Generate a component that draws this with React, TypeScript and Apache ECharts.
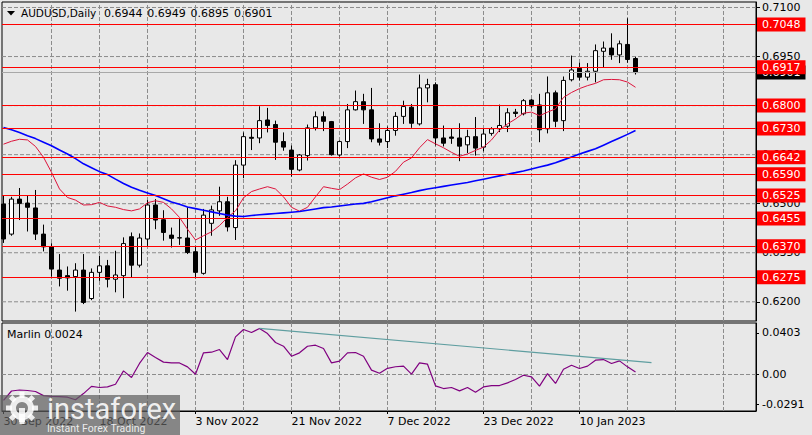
import React, { useEffect, useRef } from "react";
import * as echarts from "echarts";

const FONT = "DejaVu Sans";

const dateTickIndex = [0, 12, 24, 36, 48, 60, 72];
const dateTickLabels = ["30 Sep 2022", "18 Oct 2022", "3 Nov 2022", "21 Nov 2022", "7 Dec 2022", "23 Dec 2022", "10 Jan 2023"];
const gridColumns = [6, 12, 18, 24, 30, 36, 42, 48, 54, 60, 66, 72, 78, 84, 90];
const priceTicks = [0.62, 0.635, 0.65, 0.665, 0.68, 0.695, 0.71];
const levelPrices = [0.7048, 0.6917, 0.68, 0.673, 0.6642, 0.659, 0.6525, 0.6455, 0.637, 0.6275];
const bidPrice = 0.6901;
const marlinTicks = [0.0403, 0, -0.0291];
const marlinGridRows = [0];
const titleValues = ["0.6944", "0.6949", "0.6895", "0.6901"];

const opens = [
  0.6499, 0.6407, 0.6514, 0.6502, 0.6487, 0.6407, 0.6369, 0.6297, 0.6280, 0.6277,
  0.6297, 0.6210, 0.6290, 0.6310, 0.6269, 0.6280, 0.6399, 0.6312, 0.6392, 0.6496,
  0.6451, 0.6404, 0.6395, 0.6395, 0.6353, 0.6287, 0.6440, 0.6478, 0.6506, 0.6427,
  0.6618, 0.6703, 0.6701, 0.6756, 0.6742, 0.6690, 0.6664, 0.6603, 0.6647, 0.6732,
  0.6766, 0.6751, 0.6649, 0.6690, 0.6787, 0.6812, 0.6787, 0.6698, 0.6690, 0.6724,
  0.6767, 0.6795, 0.6744, 0.6854, 0.6864, 0.6701, 0.6704, 0.6701, 0.6680, 0.6705,
  0.6673, 0.6715, 0.6729, 0.6737, 0.6780, 0.6775, 0.6817, 0.6802, 0.6729, 0.6839,
  0.6754, 0.6879, 0.6914, 0.6887, 0.6905, 0.6966, 0.6976, 0.6955, 0.6987, 0.6944,
];
const highs = [
  0.6525, 0.6521, 0.6548, 0.6526, 0.6542, 0.6436, 0.6379, 0.6346, 0.6308, 0.6318,
  0.6346, 0.6302, 0.6341, 0.6328, 0.6356, 0.6397, 0.6412, 0.6409, 0.6511, 0.6514,
  0.6480, 0.6427, 0.6453, 0.6489, 0.6371, 0.6484, 0.6494, 0.6552, 0.6521, 0.6633,
  0.6718, 0.6729, 0.6798, 0.6793, 0.6754, 0.6718, 0.6678, 0.6652, 0.6742, 0.6782,
  0.6782, 0.6753, 0.6693, 0.6805, 0.6846, 0.6836, 0.6854, 0.6746, 0.6736, 0.6780,
  0.6815, 0.6805, 0.6895, 0.6882, 0.6871, 0.6739, 0.6731, 0.6746, 0.6726, 0.6765,
  0.6729, 0.6734, 0.6803, 0.6792, 0.6790, 0.6820, 0.6820, 0.6836, 0.6889, 0.6846,
  0.6889, 0.6953, 0.6931, 0.6930, 0.6987, 0.6996, 0.7021, 0.6999, 0.7067, 0.6949,
];
const lows = [
  0.6380, 0.6402, 0.6450, 0.6415, 0.6389, 0.6354, 0.6277, 0.6247, 0.6234, 0.6170,
  0.6193, 0.6205, 0.6264, 0.6244, 0.6229, 0.6211, 0.6274, 0.6305, 0.6371, 0.6422,
  0.6387, 0.6366, 0.6374, 0.6346, 0.6272, 0.6283, 0.6402, 0.6463, 0.6415, 0.6389,
  0.6578, 0.6664, 0.6685, 0.6718, 0.6634, 0.6662, 0.6583, 0.6599, 0.6632, 0.6724,
  0.6722, 0.6647, 0.6644, 0.6670, 0.6785, 0.6744, 0.6688, 0.6678, 0.6670, 0.6708,
  0.6744, 0.6732, 0.6739, 0.6810, 0.6678, 0.6675, 0.6683, 0.6630, 0.6655, 0.6647,
  0.6660, 0.6708, 0.6719, 0.6719, 0.6765, 0.6770, 0.6793, 0.6688, 0.6715, 0.6734,
  0.6722, 0.6874, 0.6877, 0.6877, 0.6871, 0.6917, 0.6940, 0.6930, 0.6931, 0.6895,
];
const closes = [
  0.6392, 0.6514, 0.6501, 0.6489, 0.6407, 0.6368, 0.6300, 0.6272, 0.6273, 0.6297,
  0.6198, 0.6290, 0.6310, 0.6269, 0.6282, 0.6378, 0.6312, 0.6395, 0.6496, 0.6450,
  0.6412, 0.6394, 0.6396, 0.6351, 0.6290, 0.6465, 0.6481, 0.6506, 0.6429, 0.6618,
  0.6705, 0.6700, 0.6754, 0.6739, 0.6688, 0.6673, 0.6605, 0.6649, 0.6732, 0.6766,
  0.6752, 0.6650, 0.6690, 0.6787, 0.6812, 0.6787, 0.6698, 0.6688, 0.6724, 0.6767,
  0.6797, 0.6746, 0.6854, 0.6864, 0.6701, 0.6685, 0.6700, 0.6676, 0.6705, 0.6670,
  0.6713, 0.6729, 0.6739, 0.6778, 0.6776, 0.6815, 0.6799, 0.6726, 0.6839, 0.6752,
  0.6877, 0.6909, 0.6887, 0.6905, 0.6968, 0.6976, 0.6955, 0.6989, 0.6941, 0.6901,
];
const redMA = [
  0.6682, 0.6691, 0.6697, 0.6695, 0.6675, 0.6642, 0.6596, 0.6545, 0.6519, 0.6511,
  0.6496, 0.6497, 0.6504, 0.6493, 0.6489, 0.6482, 0.6478, 0.6484, 0.6503, 0.6509,
  0.6504, 0.6484, 0.6458, 0.6422, 0.6389, 0.6402, 0.6414, 0.6433, 0.6458, 0.6478,
  0.6518, 0.6537, 0.6545, 0.6552, 0.6545, 0.6521, 0.6489, 0.6477, 0.6489, 0.6521,
  0.6552, 0.6547, 0.6543, 0.6560, 0.6579, 0.6591, 0.6581, 0.6574, 0.6581, 0.6599,
  0.6627, 0.6640, 0.6671, 0.6696, 0.6683, 0.6671, 0.6657, 0.6645, 0.6652, 0.6663,
  0.6673, 0.6695, 0.6725, 0.6744, 0.6759, 0.6777, 0.6780, 0.6769, 0.6780, 0.6790,
  0.6825, 0.6840, 0.6852, 0.6861, 0.6868, 0.6879, 0.6880, 0.6879, 0.6872, 0.6856,
];
const blueMA = [
  0.6733, 0.6726, 0.6718, 0.6708, 0.6699, 0.6688, 0.6677, 0.6664, 0.6652, 0.6638,
  0.6622, 0.6610, 0.6598, 0.6589, 0.6575, 0.6562, 0.6550, 0.6541, 0.6533, 0.6525,
  0.6515, 0.6505, 0.6498, 0.6490, 0.6485, 0.6480, 0.6475, 0.6470, 0.6465, 0.6462,
  0.6461, 0.6464, 0.6466, 0.6468, 0.6470, 0.6472, 0.6474, 0.6476, 0.6480, 0.6484,
  0.6488, 0.6490, 0.6493, 0.6496, 0.6499, 0.6501, 0.6506, 0.6512, 0.6518, 0.6524,
  0.6529, 0.6534, 0.6540, 0.6545, 0.6549, 0.6553, 0.6557, 0.6561, 0.6565, 0.6570,
  0.6575, 0.6580, 0.6585, 0.6590, 0.6595, 0.6600, 0.6606, 0.6612, 0.6618, 0.6625,
  0.6634, 0.6643, 0.6652, 0.6660, 0.6668, 0.6679, 0.6690, 0.6701, 0.6712, 0.6724,
];
const marlin = [
  -0.0250, -0.0160, -0.0150, -0.0155, -0.0165, -0.0205, -0.0212, -0.0215, -0.0220, -0.0245,
  -0.0185, -0.0115, -0.0126, -0.0120, -0.0094, 0.0035, -0.0029, 0.0107, 0.0213, 0.0165,
  0.0120, 0.0113, 0.0112, 0.0074, 0.0003, 0.0210, 0.0216, 0.0242, 0.0145, 0.0365,
  0.0436, 0.0407, 0.0446, 0.0397, 0.0310, 0.0274, 0.0177, 0.0210, 0.0274, 0.0284,
  0.0252, 0.0113, 0.0129, 0.0210, 0.0213, 0.0177, 0.0042, 0.0012, 0.0060, 0.0075,
  0.0081, 0.0003, 0.0113, 0.0100, -0.0110, -0.0136, -0.0126, -0.0159, -0.0126, -0.0171,
  -0.0120, -0.0107, -0.0107, -0.0081, -0.0049, -0.0007, -0.0023, -0.0113, 0.0009, -0.0087,
  0.0051, 0.0090, 0.0058, 0.0081, 0.0139, 0.0145, 0.0107, 0.0132, 0.0074, 0.0024,
];
const trendIndex = [32, 81];
const trendValue = [0.0446, 0.0116];

const X_MIN = -0.1875;
const X_MAX = 94.0625;
const Y_MAX = 0.71168;
const Y_MIN = 0.614126;
const M_MAX = 0.049903;
const M_MIN = -0.035368;

const GRID_LINE = "#8C8C8C";

function gridLineSeries(xAxisIndex: number, yAxisIndex: number, points: number[][]) {
  return {
    type: "line", xAxisIndex, yAxisIndex, data: points, showSymbol: false, silent: true, z: 1,
    clip: false, lineStyle: { color: GRID_LINE, width: 1, type: "dashed", dashOffset: 0, opacity: 1 },
  };
}

export default function App() {
  const ref = useRef<HTMLDivElement>(null);

  useEffect(() => {
    if (!ref.current) return;
    const chart = echarts.init(ref.current, null, { renderer: "svg" });

    const candleData = opens.map((o, i) => [i, o, closes[i], lows[i], highs[i]]);
    const labelStyle = {
      show: true,
      position: "end",
      distance: 1,
      color: "#fff",
      fontSize: 11,
      lineHeight: 12,
      fontFamily: FONT,
      padding: [1, 5, 1, 5],
    };

    const gridSeries = [
      ...priceTicks.map((v) => gridLineSeries(0, 0, [[X_MIN, v], [X_MAX, v]])),
      ...gridColumns.map((c) => gridLineSeries(0, 0, [[c, Y_MIN], [c, Y_MAX]])),
      ...marlinGridRows.map((v) => gridLineSeries(1, 1, [[X_MIN, v], [X_MAX, v]])),
      ...gridColumns.map((c) => gridLineSeries(1, 1, [[c, M_MIN], [c, M_MAX]])),
    ];

    const option: any = {
      animation: false,
      backgroundColor: "#E8E8E8",
      textStyle: { fontFamily: FONT },
      grid: [
        { left: 2, top: 2, width: 754, height: 319, show: true, borderColor: "#000", borderWidth: 1, backgroundColor: "rgba(0,0,0,0)" },
        { left: 2, top: 323, width: 754, height: 88, show: true, borderColor: "#000", borderWidth: 1, backgroundColor: "rgba(0,0,0,0)" },
      ],
      xAxis: [
        {
          gridIndex: 0, type: "value", min: X_MIN, max: X_MAX, position: "bottom",
          axisLine: { show: false, onZero: false }, axisLabel: { show: false },
          axisTick: { show: false }, splitLine: { show: false },
        },
        {
          gridIndex: 1, type: "value", min: X_MIN, max: X_MAX, position: "bottom",
          axisLine: { show: true, onZero: false, lineStyle: { color: "#000", width: 1 } },
          axisTick: { show: true, customValues: dateTickIndex, length: 3, lineStyle: { color: "#000" } },
          axisLabel: {
            show: true, customValues: dateTickIndex, align: "left", margin: 5,
            color: "#000", fontSize: 11, fontFamily: FONT,
            formatter: (v: number) => dateTickLabels[dateTickIndex.indexOf(Math.round(v))] ?? "",
          },
          splitLine: { show: false },
        },
      ],
      yAxis: [
        {
          gridIndex: 0, type: "value", position: "right", min: Y_MIN, max: Y_MAX,
          axisLine: { show: true, onZero: false, lineStyle: { color: "#000" } },
          axisTick: { show: true, customValues: priceTicks, length: 4, lineStyle: { color: "#000" } },
          axisLabel: {
            show: true, customValues: priceTicks, margin: 6, color: "#000", fontSize: 11, fontFamily: FONT,
            formatter: (v: number) => v.toFixed(4),
          },
          splitLine: { show: false },
        },
        {
          gridIndex: 1, type: "value", position: "right", min: M_MIN, max: M_MAX,
          axisLine: { show: true, onZero: false, lineStyle: { color: "#000" } },
          axisTick: { show: true, customValues: marlinTicks, length: 3, lineStyle: { color: "#000" } },
          axisLabel: {
            show: true, customValues: marlinTicks, margin: 6, color: "#000", fontSize: 11, fontFamily: FONT,
            formatter: (v: number) => (Math.abs(v) < 1e-9 ? "0.00" : v.toFixed(4)),
          },
          splitLine: { show: false },
        },
      ],
      series: [
        ...gridSeries,
        {
          name: "AUDUSD", type: "candlestick", xAxisIndex: 0, yAxisIndex: 0, z: 2,
          data: candleData, encode: { x: 0, y: [1, 2, 3, 4] }, barWidth: 5,
          itemStyle: { color: "#FFFFFF", color0: "#000000", borderColor: "#000000", borderColor0: "#000000", borderWidth: 1 },
        },
        {
          name: "MA fast", type: "line", xAxisIndex: 0, yAxisIndex: 0, z: 3, showSymbol: false, silent: true,
          data: redMA.map((v, i) => [i, v]),
          lineStyle: { color: "#DC143C", width: 1 },
        },
        {
          name: "MA slow", type: "line", xAxisIndex: 0, yAxisIndex: 0, z: 3, showSymbol: false, silent: true,
          data: blueMA.map((v, i) => [i, v]),
          lineStyle: { color: "#0000FF", width: 1.6 },
        },
        {
          name: "levels", type: "line", xAxisIndex: 0, yAxisIndex: 0, data: [], z: 4, silent: true,
          markLine: {
            silent: true, symbol: ["none", "none"], animation: false, precision: 4,
            data: [
              {
                yAxis: bidPrice,
                lineStyle: { color: "#A8A8A8", type: "solid", width: 1 },
                label: { ...labelStyle, backgroundColor: "#000", formatter: bidPrice.toFixed(4) },
              },
              ...levelPrices.map((v) => ({
                yAxis: v,
                lineStyle: { color: "#FF0000", type: "solid", width: 1.2 },
                label: { ...labelStyle, backgroundColor: "#FF0000", formatter: v.toFixed(4) },
              })),
            ],
          },
        },
        {
          name: "Marlin", type: "line", xAxisIndex: 1, yAxisIndex: 1, z: 3, showSymbol: false, silent: true,
          data: marlin.map((v, i) => [i, v]),
          lineStyle: { color: "#800080", width: 1.2 },
        },
        {
          name: "trend", type: "line", xAxisIndex: 1, yAxisIndex: 1, z: 3, showSymbol: false, silent: true,
          data: trendIndex.map((x, i) => [x, trendValue[i]]),
          lineStyle: { color: "#5F9EA0", width: 1.2 },
        },
      ],
      graphic: [
        { type: "polygon", shape: { points: [[7, 11], [15, 11], [11, 15.5]] }, style: { fill: "#000" }, z: 50 },
        { type: "text", x: 21, y: 13, style: { text: "AUDUSD,Daily", fontSize: 10.5, fontFamily: FONT, fill: "#000", textVerticalAlign: "middle" }, z: 50 },
        ...titleValues.map((t, k) => ({
          type: "text", x: 104 + k * 43.3, y: 13,
          style: { text: t, fontSize: 11, fontFamily: FONT, fill: "#000", textVerticalAlign: "middle" }, z: 50,
        })),
        { type: "text", x: 7, y: 334, style: { text: "Marlin 0.0024", fontSize: 11, fontFamily: FONT, fill: "#000", textVerticalAlign: "middle" }, z: 50 },
        {
          type: "group", z: 100,
          children: [
            { type: "rect", shape: { x: 0, y: 395, width: 180, height: 40 }, style: { fill: "rgba(95,95,95,0.72)" }, z: 100 },
            { type: "ring", shape: { cx: 22, cy: 408, r: 12, r0: 6 }, style: { fill: "rgba(255,255,255,0.85)" }, z: 101 },
            ...[0, 45, 90, 135, 180, 225, 270, 315].map((a) => ({
              type: "rect", shape: { x: -2.5, y: -16, width: 5, height: 6 }, x: 22, y: 408, rotation: (a * Math.PI) / 180,
              style: { fill: "rgba(255,255,255,0.85)" }, z: 101,
            })),
            { type: "rect", shape: { x: 19, y: 408, width: 6, height: 14 }, style: { fill: "rgba(255,255,255,0.85)" }, z: 101 },
            { type: "text", x: 47, y: 409, style: { text: "instaforex", fontSize: 29, fontFamily: "Roboto", fill: "rgba(255,255,255,0.9)", textVerticalAlign: "middle" }, z: 101 },
            { type: "text", x: 47, y: 428, style: { text: "Instant Forex Trading", fontSize: 10.5, fontFamily: "Roboto", fill: "rgba(255,255,255,0.85)", textVerticalAlign: "middle" }, z: 101 },
          ],
        },
      ],
    };

    chart.setOption(option);
    return () => chart.dispose();
  }, []);

  return <div ref={ref} style={{ position: "absolute", left: 0, top: 0, width: 812, height: 435 }} />;
}
